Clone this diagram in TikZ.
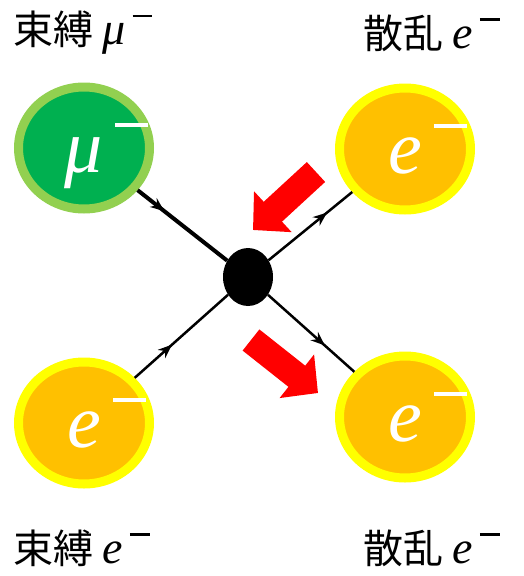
\documentclass[tikz,border=0pt]{standalone}
\usepackage{fontspec}
\newfontfamily\jp{Noto Sans CJK JP}
\newfontfamily\lat{Liberation Serif}
\usetikzlibrary{shapes.geometric,arrows.meta,decorations.markings}

\definecolor{mugreen}{HTML}{00B050}
\definecolor{muring}{HTML}{92D050}
\definecolor{eorange}{HTML}{FFC000}
\definecolor{ering}{HTML}{FFFF00}
\definecolor{hintred}{HTML}{FF0000}

% italic particle symbol with a raised charge bar
\newcommand\chgbar{\kern.16em\raisebox{.6em}{\rule{.43em}{.055em}}}
\newcommand\ptcl[1]{{\lat\itshape #1}\chgbar}
% same, centred on the letter and taking no width
\newcommand\inball[1]{\makebox[0pt]{\hphantom{\chgbar}\ptcl{#1}}}

\tikzset{
  particle/.style={ellipse, line width=9pt, minimum width=131pt, minimum height=122pt,
    inner sep=0pt, text depth=0pt, text=white, font=\lat\fontsize{76}{76}\selectfont},
  muon/.style={particle, fill=mugreen, draw=muring},
  elec/.style={particle, fill=eorange, draw=ering},
  vertex/.style={ellipse, fill=black, minimum width=50pt, minimum height=58pt, inner sep=0pt},
  prop/.style={line width=2.5pt, postaction={decorate},
    decoration={markings, mark=at position #1 with {\arrow{Stealth[length=14pt,width=11pt]}}}},
  push/.style={hintred, line width=27pt, -{Triangle[length=27pt,width=54pt]}},
  tag/.style={anchor=west, inner sep=0pt, font=\jp\fontsize{40}{40}\selectfont},
}

\begin{document}
\begin{tikzpicture}[x=1pt, y=-1pt]
\useasboundingbox (0,0) rectangle (524,576);

% particles and the interaction point
\node[muon] (mu) at (84,148) {\inball{μ}};
\node[elec] (eout1) at (405,149) {\inball{e}};
\node[elec] (ein) at (84,423) {\inball{e}};
\node[elec] (eout2) at (405,417) {\inball{e}};
\node[vertex] (v) at (248,277) {};

% propagators
\draw[prop=0.3, line width=4pt] (mu) -- (v);
\draw[prop=0.4] (ein) -- (v);
\draw[prop=0.7] (v) -- (eout1);
\draw[prop=0.66] (v) -- (eout2);

% red hints
\coordinate (h1s) at (316,172);
\coordinate (h1e) at (253,230);
\coordinate (h2s) at (251,340);
\coordinate (h2e) at (318,393);
\draw[push] (h1s) -- (h1e);
\draw[push] (h2s) -- (h2e);

% labels
\node[tag] (tmu) at (13,33) {束縛 {\lat\fontsize{46}{46}\selectfont\ptcl{μ}}};
\node[tag] (tsc1) at (363,33) {散乱 {\lat\fontsize{46}{46}\selectfont\ptcl{e}}};
\node[tag] (tbe) at (13,548) {束縛 {\lat\fontsize{46}{46}\selectfont\ptcl{e}}};
\node[tag] (tsc2) at (363,548) {散乱 {\lat\fontsize{46}{46}\selectfont\ptcl{e}}};
\end{tikzpicture}
\end{document}
